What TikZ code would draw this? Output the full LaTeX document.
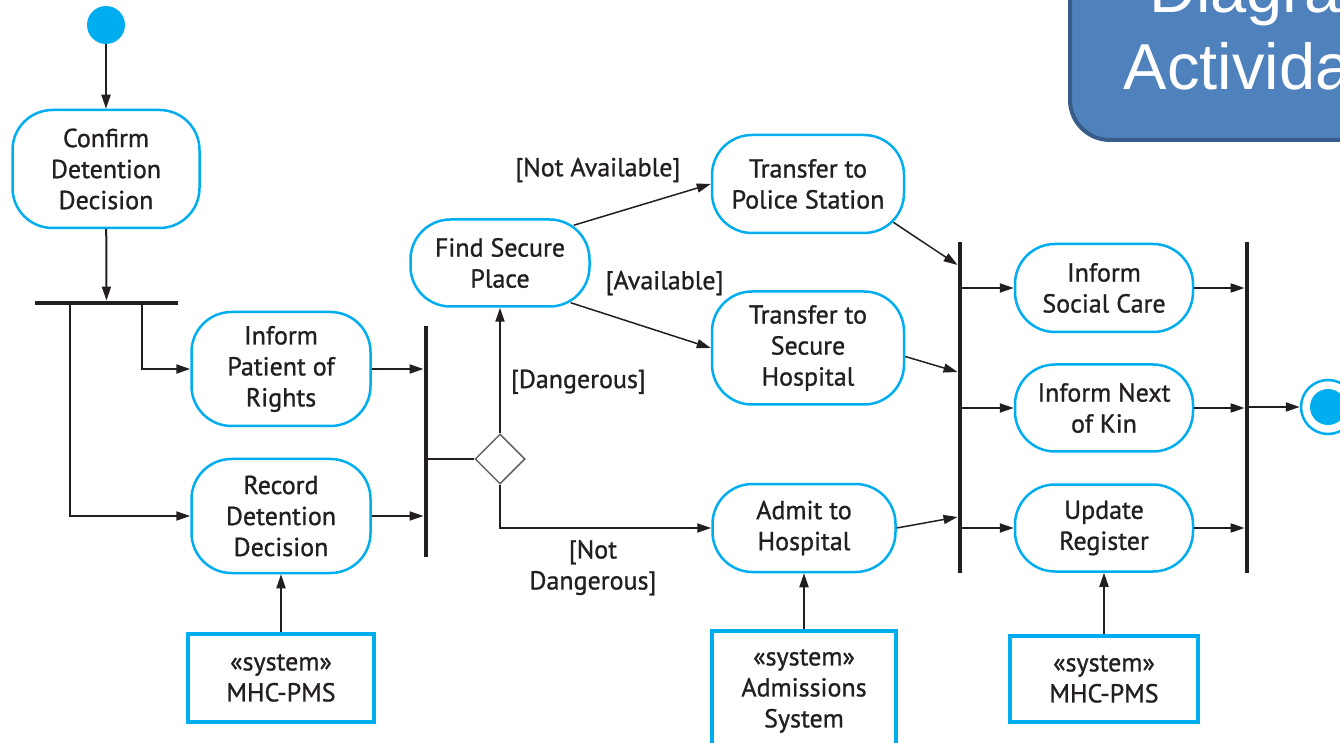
\documentclass[tikz,border=0pt]{standalone}
\usepackage{fontspec}
\setmainfont{PT Sans}[FakeBold=1]
\newfontfamily\titlefont{Liberation Sans}
\usetikzlibrary{arrows.meta,shapes.geometric}
\tikzset{>={Triangle[length=14pt,width=9pt]}}
\definecolor{umlblue}{RGB}{0,174,239}
\definecolor{umltext}{RGB}{35,31,32}
\definecolor{titlefill}{RGB}{79,129,189}
\definecolor{titleline}{RGB}{56,93,138}

\begin{document}
\begin{tikzpicture}[x=1pt,y=1pt,
  activity/.style={draw=umlblue, line width=2.5pt, rounded corners=40pt, align=center, text=umltext, inner sep=0pt, font=\fontsize{26}{31}\selectfont},
  sysbox/.style={draw=umlblue, line width=4pt, align=center, text=umltext, inner sep=0pt, font=\fontsize{26}{31}\selectfont},
  bar/.style={fill=umltext, inner sep=0pt},
  guard/.style={text=umltext, align=center, inner sep=0pt, font=\fontsize{26}{31}\selectfont},
  flow/.style={->, line width=2pt, draw=umltext}]
\useasboundingbox (0,0) rectangle (1340,742);
% title box, cut by the page
\node[draw=titleline, fill=titlefill, line width=4pt, rounded corners=40pt, minimum width=440, minimum height=248] (titlebox) at (1290,726) {};
\node[anchor=base, text=white, align=center, inner sep=0pt, font=\titlefont\fontsize{65}{77}\selectfont] (title) at (1290,652) {Diagrama\\Actividades};
% activities
\node[circle, fill=umlblue, minimum size=38, inner sep=0pt] (start) at (106,717) {};
\node[activity, minimum width=187, minimum height=118] (confirm) at (106,573) {Confirm\\Detention\\Decision};
\node[bar, minimum width=143, minimum height=4.5] (fork) at (106.5,439) {};
\node[activity, minimum width=179, minimum height=114] (inform) at (281,373) {Inform\\Patient of\\Rights};
\node[activity, minimum width=179, minimum height=114] (record) at (281,226) {Record\\Detention\\Decision};
\node[bar, minimum width=4.5, minimum height=231] (join) at (426,300.5) {};
\node[diamond, draw=umltext!70, line width=1.5pt, minimum size=50, inner sep=0pt, fill=white] (decide) at (500,283) {};
\node[activity, minimum width=179, minimum height=87] (find) at (500,479) {Find Secure\\Place};
\node[activity, minimum width=192, minimum height=98] (police) at (808,558) {Transfer to\\Police Station};
\node[activity, minimum width=192, minimum height=113] (hospital) at (808,394) {Transfer to\\Secure\\Hospital};
\node[activity, minimum width=183, minimum height=88] (admit) at (804,214) {Admit to\\Hospital};
\node[bar, minimum width=4.5, minimum height=331] (split) at (960,334.5) {};
\node[activity, minimum width=178, minimum height=88] (social) at (1104,454) {Inform\\Social Care};
\node[activity, minimum width=178, minimum height=87] (kin) at (1104,334) {Inform Next\\of Kin};
\node[activity, minimum width=178, minimum height=87] (register) at (1104,214) {Update\\Register};
\node[bar, minimum width=4.5, minimum height=331] (merge) at (1247,334.5) {};
\node[circle, draw=umlblue, line width=2.5pt, minimum size=54, inner sep=0pt] (stop) at (1328,335) {};
\fill[umlblue] (stop.center) circle (18);
% systems
\node[sysbox, minimum width=186, minimum height=88] (pms) at (281,64) {«system»\\MHC-PMS};
\node[sysbox, minimum width=184, minimum height=120] (adm) at (804,51) {«system»\\Admissions\\System};
\node[sysbox, minimum width=188, minimum height=86] (pms2) at (1104,63) {«system»\\MHC-PMS};
% flows
\draw[flow] (start) -- (confirm);
\draw[flow] (confirm) -- (fork);
\draw[flow] ([xshift=-36.5]fork.south) |- (record);
\draw[flow] ([xshift=35.5]fork.south) |- (inform);
\draw[flow] (inform) -- (inform -| join.west);
\draw[flow] (record) -- (record -| join.west);
\draw[line width=2pt, umltext] (join.east |- decide) -- (decide);
\draw[flow] (decide.north) -- node[guard, right=10pt, pos=0.41] (dangerous) {[Dangerous]} (find);
\draw[flow] (decide.south) |- node[guard, below=11pt, pos=0.72] (notdangerous) {[Not\\Dangerous]} (admit);
\draw[flow, line width=1.5pt] ([shift={(-17,-7)}]find.north east) -- node[guard, above=35pt, pos=0.176] (notavail) {[Not Available]} (police.west);
\draw[flow, line width=1.5pt] ([shift={(-20,5)}]find.south east) -- node[guard, above=37pt, pos=0.67] (avail) {[Available]} (hospital.west);
\draw[flow, line width=1.5pt] ([shift={(-12,12)}]police.south east) -- ([yshift=142.5]split.west);
\draw[flow, line width=1.5pt] (hospital.-5) -- ([yshift=35.5]split.west);
\draw[flow, line width=1.5pt] (admit.east) -- ([yshift=-109.5]split.west);
\foreach \act in {social, kin, register} {
  \draw[flow] (split.east |- \act) -- (\act);
  \draw[flow] (\act) -- (\act -| merge.west);
}
\draw[flow] (merge.east |- stop) -- (stop);
\draw[flow] (pms) -- (record);
\draw[flow] (adm) -- (admit);
\draw[flow] (pms2) -- (register);
\end{tikzpicture}
\end{document}
